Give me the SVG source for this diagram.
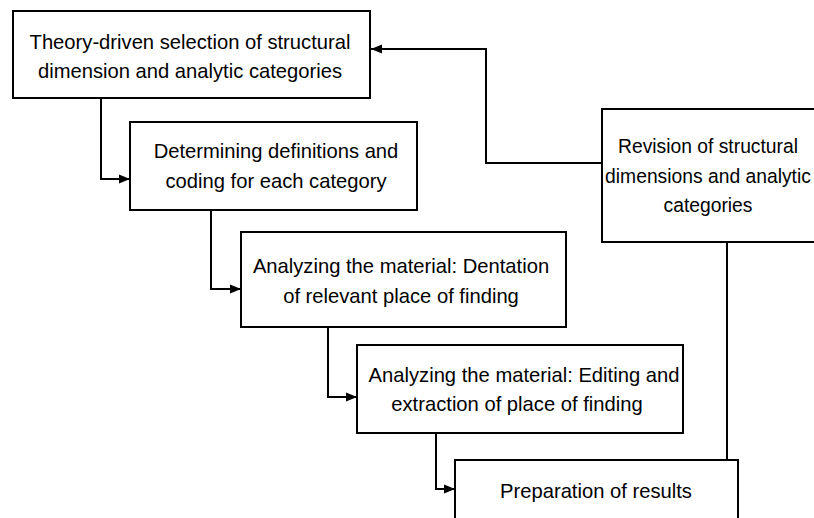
<svg xmlns="http://www.w3.org/2000/svg" width="814" height="518" viewBox="0 0 814 518">
<defs>
<marker id="arr" markerWidth="12" markerHeight="10" refX="11" refY="5" orient="auto" markerUnits="userSpaceOnUse">
<path d="M0,0.5 L11,5 L0,9.5 Z" fill="#000"/>
</marker>
<style>
.box{fill:#fff;stroke:#000;stroke-width:2}
.t{font-family:"Liberation Sans",Arial,sans-serif;font-size:20.2px;fill:#000;text-anchor:middle}
.s{font-size:19.3px}
.c{fill:none;stroke:#000;stroke-width:2}
</style>
</defs>
<rect width="814" height="518" fill="#fff"/>
<g id="connectors">
<path class="c" d="M101,98 V179 H130" marker-end="url(#arr)"/>
<path class="c" d="M211,210 V289 H241" marker-end="url(#arr)"/>
<path class="c" d="M328,327 V397 H357" marker-end="url(#arr)"/>
<path class="c" d="M436,433 V489 H455" marker-end="url(#arr)"/>
<path class="c" d="M602,163 H486 V49 H371" marker-end="url(#arr)"/>
<path class="c" d="M727,242 V460"/>
</g>
<g id="n1">
<rect class="box" x="13" y="11" width="357" height="87"/>
<text class="t" x="190" y="49">Theory-driven selection of structural</text>
<text class="t" x="190" y="78">dimension and analytic categories</text>
</g>
<g id="n2">
<rect class="box" x="130" y="122" width="287" height="88"/>
<text class="t" x="276" y="158">Determining definitions and</text>
<text class="t" x="276" y="188">coding for each category</text>
</g>
<g id="n3">
<rect class="box" x="241" y="232" width="325" height="95"/>
<text class="t" x="401" y="273">Analyzing the material: Dentation</text>
<text class="t" x="401" y="303">of relevant place of finding</text>
</g>
<g id="n4">
<rect class="box" x="357" y="345" width="326" height="88"/>
<text class="t" x="524" y="382">Analyzing the material: Editing and</text>
<text class="t" x="517" y="411">extraction of place of finding</text>
</g>
<g id="n5">
<rect class="box" x="455" y="460" width="283" height="70"/>
<text class="t" x="596" y="498">Preparation of results</text>
</g>
<g id="n6">
<rect class="box" x="602" y="109" width="216" height="133"/>
<text class="t s" x="708" y="153">Revision of structural</text>
<text class="t s" x="708" y="183">dimensions and analytic</text>
<text class="t s" x="708" y="212">categories</text>
</g>
</svg>
